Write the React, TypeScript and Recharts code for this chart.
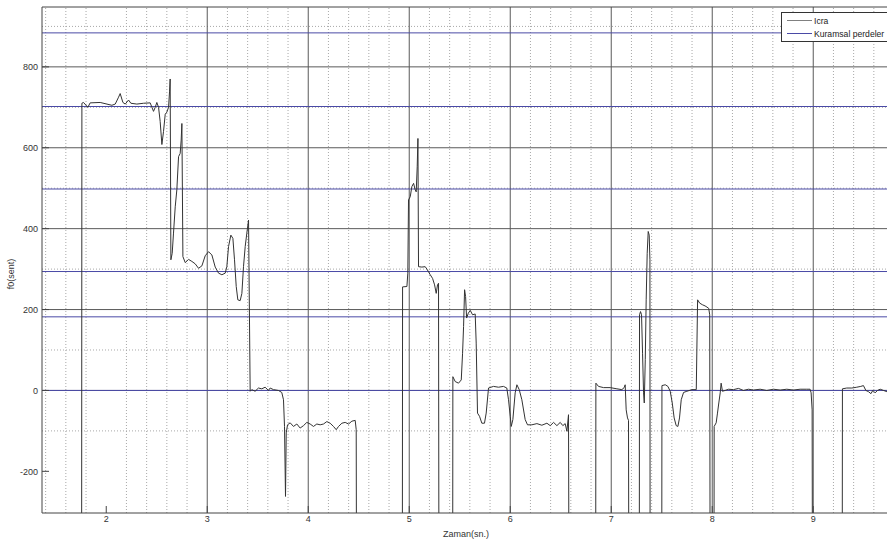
import { LineChart, Line, XAxis, YAxis, ReferenceLine } from 'recharts';

// ses yok: değer eksen altına iner (grafikte dikey düşüş olarak görünür)
const S = -1000;

const zaman = [
  1.755, 1.759, 1.775, 1.818, 1.841, 1.94, 2.056, 2.089, 2.122, 2.138, 2.165, 2.188, 2.221, 2.244, 2.303, 2.369,
  2.435, 2.468, 2.485, 2.501, 2.518, 2.534, 2.551, 2.567, 2.584, 2.6, 2.617, 2.627, 2.633, 2.64, 2.653, 2.666,
  2.683, 2.699, 2.716, 2.732, 2.742, 2.749, 2.759, 2.782, 2.815, 2.848, 2.881, 2.914, 2.947, 2.98, 3.013, 3.046,
  3.079, 3.112, 3.145, 3.178, 3.194, 3.211, 3.234, 3.254, 3.27, 3.287, 3.303, 3.326, 3.343, 3.359, 3.376, 3.392,
  3.409, 3.425, 3.441, 3.474, 3.507, 3.54, 3.573, 3.606, 3.623, 3.656, 3.705, 3.738, 3.755, 3.765, 3.775, 3.782,
  3.795, 3.821, 3.854, 3.887, 3.92, 3.953, 3.986, 4.019, 4.052, 4.085, 4.118, 4.151, 4.184, 4.217, 4.25, 4.277,
  4.3, 4.333, 4.366, 4.399, 4.432, 4.465, 4.475, 4.482,
  4.93, 4.934, 4.977, 4.986, 4.993, 5.01, 5.026, 5.043, 5.059, 5.069, 5.079, 5.086, 5.092, 5.125, 5.158, 5.175,
  5.208, 5.231, 5.251, 5.267, 5.28, 5.29, 5.297,
  5.428, 5.432, 5.455, 5.488, 5.515, 5.528, 5.538, 5.548, 5.558, 5.568, 5.585, 5.604, 5.627, 5.653, 5.663, 5.676,
  5.696, 5.719, 5.745, 5.762, 5.785, 5.834, 5.884, 5.933, 5.966, 5.983, 6.0, 6.01, 6.026, 6.049, 6.066, 6.089,
  6.115, 6.148, 6.171, 6.214, 6.264, 6.313, 6.363, 6.396, 6.429, 6.462, 6.495, 6.521, 6.544, 6.561, 6.577, 6.587,
  6.844, 6.848, 6.874, 6.924, 6.99, 7.056, 7.105, 7.128, 7.138, 7.148, 7.161, 7.171, 7.178,
  7.276, 7.28, 7.29, 7.3, 7.31, 7.32, 7.327, 7.337, 7.346, 7.356, 7.366, 7.376, 7.383, 7.386,
  7.498, 7.502, 7.535, 7.561, 7.584, 7.604, 7.623, 7.643, 7.66, 7.676, 7.693, 7.716, 7.749, 7.799, 7.842, 7.855,
  7.875, 7.902, 7.929, 7.948, 7.965, 7.975, 7.982,
  8.015, 8.019, 8.039, 8.052, 8.065, 8.079, 8.088, 8.101, 8.128, 8.161, 8.21, 8.26, 8.309, 8.359, 8.408, 8.474,
  8.54, 8.606, 8.672, 8.738, 8.804, 8.87, 8.936, 8.969, 8.979, 8.989, 8.996,
  9.285, 9.289, 9.332, 9.382, 9.431, 9.471, 9.497, 9.521, 9.547, 9.571, 9.59, 9.613, 9.636, 9.663, 9.696, 9.729,
  9.76,
];

const icra = [
  S, 710, 712, 700, 711, 712, 705, 708, 725, 734, 712, 708, 718, 710, 708, 710,
  711, 690, 700, 712, 700, 665, 608, 640, 683, 688, 700, 740, 770, 323, 339, 389,
  454, 496, 578, 586, 619, 660, 331, 316, 324, 319, 313, 302, 308, 333, 343, 335,
  305, 290, 286, 290, 306, 356, 384, 376, 323, 257, 224, 222, 240, 306, 356, 389,
  421, -2, 2, -2, 6, 4, 8, 0, 6, 2, 0, -5, -23, -89, -262, -105,
  -85, -80, -89, -83, -93, -87, -79, -83, -89, -83, -85, -83, -77, -81, -89, -97,
  -89, -81, -79, -83, -76, -74, -97, S,
  S, 256, 257, 290, 471, 479, 504, 512, 496, 491, 553, 623, 306, 305, 306, 300,
  286, 277, 261, 240, 261, 265, S,
  S, 34, 22, 18, 26, 92, 158, 249, 232, 179, 191, 198, 187, 189, 117, -56,
  -64, -81, -81, -56, 6, 10, 8, 10, 6, -23, -64, -89, -72, -6, 14, 2,
  -23, -72, -85, -85, -82, -86, -81, -87, -79, -87, -79, -87, -82, -101, -60, S,
  S, 18, 10, 7, 7, 4, 2, 7, 14, -48, -68, -74, S,
  S, 187, 195, 187, 92, -6, -31, 76, 224, 339, 393, 384, 323, S,
  S, 12, 14, 10, -2, -31, -68, -87, -89, -68, -23, -5, -2, 2, 2, 224,
  216, 212, 209, 206, 203, 187, S,
  S, -89, -80, -56, -31, -6, 18, -2, 0, 3, 2, 5, 0, 3, 1, 3,
  0, 3, 1, 3, 1, 3, 3, 3, -6, -48, S,
  S, 4, 6, 6, 8, 10, 12, 0, -3, -8, 0, -6, 0, 3, 0, -3,
  -5,
];

// kuramsal perdeler (sent)
const perdeler = [0, 182, 294, 498, 702, 884];

const xTikler = [2, 3, 4, 5, 6, 7, 8, 9];
const yTikler = [-200, 0, 200, 400, 600, 800];
const anaIzgaraX = [3, 4, 5, 6, 7, 8, 9];
const anaIzgaraY = [0, 200, 400, 600, 800];
const araIzgaraX = [
  1.4, 1.6, 1.8, 2.2, 2.4, 2.6, 2.8, 3.2, 3.4, 3.6, 3.8, 4.2, 4.4, 4.6, 4.8, 5.2, 5.4, 5.6, 5.8,
  6.2, 6.4, 6.6, 6.8, 7.2, 7.4, 7.6, 7.8, 8.2, 8.4, 8.6, 8.8, 9.2, 9.4, 9.6,
];
const araIzgaraY = [-100, 100, 300, 500, 700, 900];

const X_ARALIK: [number, number] = [1.364, 9.76];
const Y_ARALIK: [number, number] = [-303, 948];

const FONT = '"Liberation Sans", Arial, Helvetica, sans-serif';
const ICRA_RENK = '#333';
const PERDE_RENK = '#4a4aa6';
const ANA_RENK = '#5a5a5a';
const ARA_RENK = '#a8a8a8';
const EKSEN_RENK = '#444';

const veri = zaman.map((t, i) => ({ t, f0: icra[i] }));

const tikStil = { fontSize: 9, fill: '#333', fontFamily: FONT };

function Lejant() {
  const satirlar = [
    { ad: 'Icra', renk: '#808080' },
    { ad: 'Kuramsal perdeler', renk: PERDE_RENK },
  ];
  return (
    <div
      style={{
        position: 'absolute',
        left: 781,
        top: 12,
        width: 112,
        border: '1px solid #333',
        background: '#fff',
        fontFamily: FONT,
        fontSize: 8.6,
        color: '#222',
        padding: '1px 0 1px 5px',
        boxSizing: 'border-box',
        whiteSpace: 'nowrap',
      }}
    >
      {satirlar.map((s) => (
        <div key={s.ad} style={{ display: 'flex', alignItems: 'center', height: 13 }}>
          <span style={{ display: 'inline-block', width: 25, height: 0, borderTop: `1px solid ${s.renk}`, marginRight: 2 }} />
          <span>{s.ad}</span>
        </div>
      ))}
    </div>
  );
}

export default function App() {
  return (
    <div
      style={{
        position: 'absolute',
        left: 0,
        top: 0,
        width: 887,
        height: 540,
        overflow: 'hidden',
        background: '#fff',
      }}
    >
      <LineChart width={900} height={540} data={veri} margin={{ top: 7, right: 10, bottom: 0, left: 0 }}>
        <XAxis
          dataKey="t"
          type="number"
          domain={X_ARALIK}
          allowDataOverflow
          ticks={xTikler}
          interval={0}
          height={27}
          tickSize={-7}
          tickMargin={10}
          tick={tikStil}
          stroke={EKSEN_RENK}
          label={{ value: 'Zaman(sn.)', position: 'insideBottom', offset: 3, style: { ...tikStil, fill: '#333' } }}
        />
        <YAxis
          type="number"
          domain={Y_ARALIK}
          allowDataOverflow
          ticks={yTikler}
          interval={0}
          width={42}
          tickSize={-7}
          tickMargin={11}
          tick={tikStil}
          stroke={EKSEN_RENK}
          label={(p: any) => {
            const vb = p.viewBox || { x: 0, y: 7, width: 42, height: 506 };
            const cx = vb.x + 11;
            const cy = vb.y + vb.height / 2 + 14;
            return (
              <text x={cx} y={cy} transform={`rotate(-90, ${cx}, ${cy})`} textAnchor="middle" dominantBaseline="central" style={tikStil}>
                f0(sent)
              </text>
            );
          }}
        />

        {araIzgaraX.map((x) => (
          <ReferenceLine key={`ax${x}`} x={x} stroke={ARA_RENK} strokeDasharray="1 2" />
        ))}
        {araIzgaraY.map((y) => (
          <ReferenceLine key={`ay${y}`} y={y} stroke={ARA_RENK} strokeDasharray="1 2" />
        ))}
        {anaIzgaraX.map((x) => (
          <ReferenceLine key={`nx${x}`} x={x} stroke={ANA_RENK} />
        ))}
        {anaIzgaraY.map((y) => (
          <ReferenceLine key={`ny${y}`} y={y} stroke={ANA_RENK} />
        ))}
        {perdeler.map((y) => (
          <ReferenceLine key={`p${y}`} y={y} stroke={PERDE_RENK} />
        ))}
        <ReferenceLine y={Y_ARALIK[1]} stroke={EKSEN_RENK} />

        <Line
          name="Icra"
          dataKey="f0"
          type="linear"
          stroke={ICRA_RENK}
          strokeWidth={1}
          dot={false}
          activeDot={false}
          isAnimationActive={false}
        />
      </LineChart>
      <Lejant />
    </div>
  );
}
